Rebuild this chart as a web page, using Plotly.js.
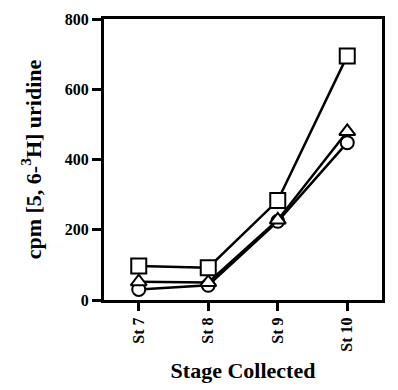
<!DOCTYPE html>
<html><head><meta charset="utf-8">
<script src="https://cdn.plot.ly/plotly-3.0.1.min.js"></script>
<style>html,body{margin:0;padding:0;background:#fff}#chart{width:398px;height:390px}</style>
</head><body><div id="chart"></div>
<script>
const stages = ["St 7", "St 8", "St 9", "St 10"];
const squareSeries = [97, 92, 283, 695];
const triangleSeries = [52, 50, 228, 480];
const circleSeries = [30, 42, 224, 448];
const yTicks = [0, 200, 400, 600, 800];

const fontFam = "Liberation Serif, Times New Roman, serif";
function series(y, symbol, size) {
  return {
    x: stages, y: y, type: "scatter", mode: "lines+markers",
    line: {color: "#000", width: 2.5},
    marker: {symbol: symbol, size: size, color: "#fff", line: {color: "#000", width: 2}},
    cliponaxis: false, showlegend: false
  };
}
const data = [
  series(circleSeries, "circle", 13),
  series(triangleSeries, "triangle-up", 14),
  series(squareSeries, "square", 15)
];

const layout = {
  width: 398, height: 390,
  margin: {l: 104, r: 16, t: 19, b: 90},
  paper_bgcolor: "#fff", plot_bgcolor: "#fff",
  font: {family: fontFam, color: "#000"},
  xaxis: {
    type: "category", range: [-0.5, 3.5],
    showline: true, linewidth: 3, linecolor: "#000", mirror: true,
    ticks: "outside", ticklen: 8, tickwidth: 3, tickcolor: "#000",
    tickangle: -90, showgrid: false, zeroline: false,
    tickfont: {family: fontFam, size: 16, weight: "bold"},
    title: {text: "Stage Collected", font: {family: fontFam, size: 22, weight: "bold"}, standoff: 12}
  },
  yaxis: {
    range: [0, 800], tickvals: yTicks, ticktext: yTicks.map(String),
    showline: true, linewidth: 3, linecolor: "#000", mirror: true,
    ticks: "outside", ticklen: 9, tickwidth: 3, tickcolor: "#000",
    showgrid: false, zeroline: false,
    tickfont: {family: fontFam, size: 16, weight: "bold"},
    title: {text: "cpm [5, 6-<sup>3</sup>H] uridine", font: {family: fontFam, size: 22, weight: "bold"}, standoff: 18}
  }
};
Plotly.newPlot("chart", data, layout, {displayModeBar: false, staticPlot: true});
</script></body></html>
